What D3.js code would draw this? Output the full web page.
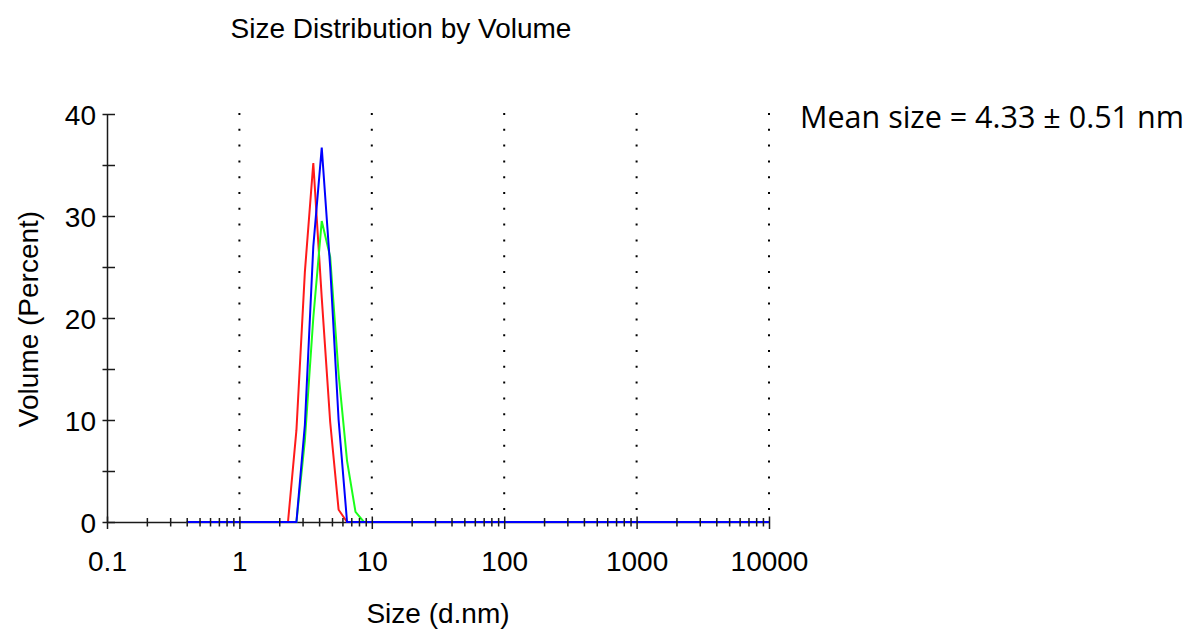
<!DOCTYPE html>
<html>
<head>
<meta charset="utf-8">
<script src="https://cdn.jsdelivr.net/npm/d3@7"></script>
<style>
  body { margin: 0; background: #fff; }
  svg { display: block; }
  text { font-family: "Liberation Sans", Arial, sans-serif; fill: #000; }
</style>
</head>
<body>
<div id="chart"></div>
<script>
// size classes (d.nm)
var sizes = [
  0.4, 0.4632, 0.5365, 0.6213, 0.7195, 0.8332, 0.9649, 1.117, 1.294, 1.499,
  1.736, 2.010, 2.328, 2.696, 3.122, 3.615, 4.187, 4.849, 5.615, 6.503,
  7.531, 8.721, 10.10, 11.70, 13.54, 15.69, 18.17, 21.04, 24.36, 28.21,
  32.67, 37.84, 43.82, 50.75, 58.77, 68.06, 78.82, 91.28, 105.7, 122.4,
  141.8, 164.2, 190.1, 220.2, 255.0, 295.3, 342.0, 396.1, 458.7, 531.2,
  615.1, 712.4, 825.0, 955.4, 1106, 1281, 1484, 1718, 1990, 2305,
  2669, 3091, 3580, 4145, 4801, 5560, 6439, 7456, 8635, 10000
];

// volume (%) for each run
var red = [
  0, 0, 0, 0, 0, 0, 0, 0, 0, 0,
  0, 0, 0, 9, 24.5, 35.2, 22, 9.8, 1.2, 0,
  0, 0, 0, 0, 0, 0, 0, 0, 0, 0,
  0, 0, 0, 0, 0, 0, 0, 0, 0, 0,
  0, 0, 0, 0, 0, 0, 0, 0, 0, 0,
  0, 0, 0, 0, 0, 0, 0, 0, 0, 0,
  0, 0, 0, 0, 0, 0, 0, 0, 0, 0
];
var green = [
  0, 0, 0, 0, 0, 0, 0, 0, 0, 0,
  0, 0, 0, 0, 8, 20, 29.5, 26, 14.5, 6,
  1, 0, 0, 0, 0, 0, 0, 0, 0, 0,
  0, 0, 0, 0, 0, 0, 0, 0, 0, 0,
  0, 0, 0, 0, 0, 0, 0, 0, 0, 0,
  0, 0, 0, 0, 0, 0, 0, 0, 0, 0,
  0, 0, 0, 0, 0, 0, 0, 0, 0, 0
];
var blue = [
  0, 0, 0, 0, 0, 0, 0, 0, 0, 0,
  0, 0, 0, 0, 9.5, 27, 36.7, 25, 10, 0,
  0, 0, 0, 0, 0, 0, 0, 0, 0, 0,
  0, 0, 0, 0, 0, 0, 0, 0, 0, 0,
  0, 0, 0, 0, 0, 0, 0, 0, 0, 0,
  0, 0, 0, 0, 0, 0, 0, 0, 0, 0,
  0, 0, 0, 0, 0, 0, 0, 0, 0, 0
];

var xTicks = [0.1, 1, 10, 100, 1000, 10000];
var xTickLabels = ["0.1", "1", "10", "100", "1000", "10000"];
var gridValues = [1, 10, 100, 1000, 10000];
var yTicks = [0, 10, 20, 30, 40];
var yMinorTicks = [5, 15, 25, 35];

var W = 1187, H = 631;
var svg = d3.select("#chart").append("svg")
  .attr("width", W)
  .attr("height", H);

var x = d3.scaleLog().domain([0.1, 10000]).range([107, 769]);
var y = d3.scaleLinear().domain([0, 40]).range([522, 114]);

// dotted grid
svg.append("g")
  .selectAll("line")
  .data(gridValues)
  .join("line")
    .attr("x1", function (d) { return x(d); })
    .attr("x2", function (d) { return x(d); })
    .attr("y1", y(40) - 1)
    .attr("y2", y(0))
    .attr("stroke", "#000")
    .attr("stroke-width", 2)
    .attr("stroke-dasharray", "2,13.8");

// x axis line only
svg.append("g")
  .attr("transform", "translate(0," + y(0) + ")")
  .call(d3.axisBottom(x).tickValues([]).tickSizeOuter(0))
  .call(function (g) { g.select(".domain").attr("stroke", "#1a1a1a").attr("stroke-width", 1.5); });

// series
var line = d3.line()
  .x(function (d, i) { return x(sizes[i]); })
  .y(function (d) { return y(d); });

[[red, "#ff1a1a"], [green, "#1aff1a"], [blue, "#0000ff"]].forEach(function (s) {
  svg.append("path")
    .datum(s[0])
    .attr("d", line)
    .attr("fill", "none")
    .attr("stroke", s[1])
    .attr("stroke-width", 2);
});

// x ticks (drawn over the lines)
var minorX = x.ticks().filter(function (d) { return xTicks.indexOf(d) < 0; });
svg.append("g")
  .attr("transform", "translate(0," + y(0) + ")")
  .call(d3.axisBottom(x).tickValues(minorX).tickFormat("").tickSizeOuter(0))
  .call(function (g) {
    g.select(".domain").remove();
    g.selectAll(".tick line").attr("y1", -4).attr("y2", 4.5)
      .attr("stroke", "#1a1a1a").attr("stroke-width", 1.5);
  });

svg.append("g")
  .attr("transform", "translate(0," + y(0) + ")")
  .call(d3.axisBottom(x).tickValues(xTicks)
    .tickFormat(function (d, i) { return xTickLabels[i]; })
    .tickSizeOuter(0))
  .call(function (g) {
    g.select(".domain").remove();
    g.selectAll(".tick line").attr("y1", -5.5).attr("y2", 7)
      .attr("stroke", "#1a1a1a").attr("stroke-width", 1.5);
    g.selectAll(".tick text")
      .attr("y", 29.5)
      .attr("dy", "0.71em")
      .style("font-size", "28px")
      .style("font-family", "'Liberation Sans', Arial, sans-serif");
  });

// y axis
svg.append("g")
  .attr("transform", "translate(107,0)")
  .call(d3.axisLeft(y).tickValues(yMinorTicks).tickFormat("").tickSizeOuter(0))
  .call(function (g) {
    g.select(".domain").remove();
    g.selectAll(".tick line").attr("x1", -4.5).attr("x2", 8)
      .attr("stroke", "#1a1a1a").attr("stroke-width", 1.5);
  });

svg.append("g")
  .attr("transform", "translate(107,0)")
  .call(d3.axisLeft(y).tickValues(yTicks).tickSizeOuter(0))
  .call(function (g) {
    g.select(".domain").attr("stroke", "#1a1a1a").attr("stroke-width", 1.5);
    g.selectAll(".tick line").attr("x1", -4.5).attr("x2", 8)
      .attr("stroke", "#1a1a1a").attr("stroke-width", 1.5);
    g.selectAll(".tick text")
      .attr("x", -11)
      .attr("dy", "0.38em")
      .style("font-size", "28px")
      .style("font-family", "'Liberation Sans', Arial, sans-serif");
  });

// titles
svg.append("text")
  .attr("x", 401)
  .attr("y", 38)
  .attr("text-anchor", "middle")
  .style("font-size", "28px")
  .text("Size Distribution by Volume");

svg.append("text")
  .attr("x", 438)
  .attr("y", 623)
  .attr("text-anchor", "middle")
  .style("font-size", "28px")
  .text("Size (d.nm)");

svg.append("text")
  .attr("transform", "translate(38,319) rotate(-90)")
  .attr("text-anchor", "middle")
  .style("font-size", "28px")
  .text("Volume (Percent)");

svg.append("text")
  .attr("x", 800)
  .attr("y", 128)
  .style("font-family", "'Open Sans', sans-serif")
  .style("font-size", "30.5px")
  .text("Mean size = 4.33 \u00b1 0.51 nm");
</script>
</body>
</html>
